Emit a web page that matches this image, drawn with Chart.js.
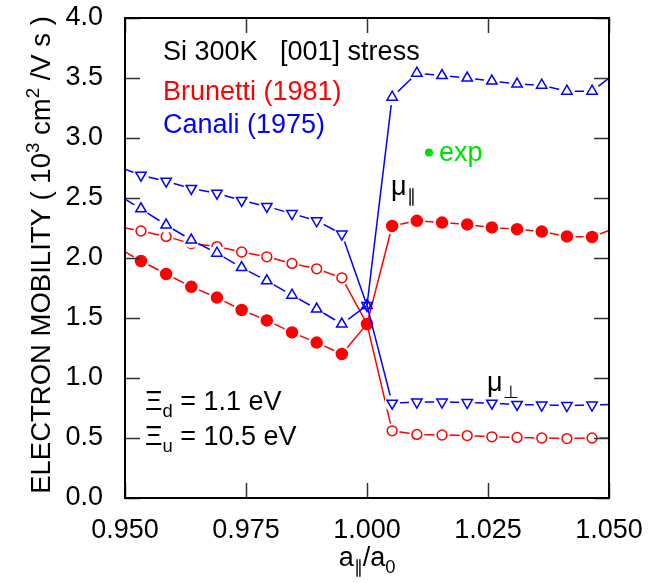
<!DOCTYPE html>
<html><head><meta charset="utf-8">
<script src="https://cdn.jsdelivr.net/npm/chart.js@4.4.0/dist/chart.umd.min.js"></script>
<style>html,body{margin:0;padding:0;background:#fff;overflow:hidden}#wrap{width:653px;height:583px;position:relative}</style>
</head><body><div id="wrap"><canvas id="c" width="653" height="583"></canvas></div>
<script>
// ---- data ----
const xValues = [0.950, 0.9533, 0.9585, 0.9637, 0.9690, 0.9741, 0.9793, 0.9845, 0.9896, 0.9948, 1.000,
                 1.0052, 1.0103, 1.0155, 1.0207, 1.0258, 1.0310, 1.0361, 1.0413, 1.0465, 1.050];
// Canali (1975) mu parallel (open up-triangles)
const canaliPar   = [2.49, 2.41, 2.275, 2.15, 2.04, 1.92, 1.81, 1.69, 1.575, 1.45, 1.605,
                     3.34, 3.54, 3.52, 3.50, 3.475, 3.45, 3.44, 3.39, 3.39, 3.50];
// Canali (1975) mu perpendicular (open down-triangles)
const canaliPerp  = [2.74, 2.69, 2.64, 2.58, 2.54, 2.48, 2.43, 2.37, 2.31, 2.20, 1.605,
                     0.79, 0.80, 0.80, 0.795, 0.79, 0.78, 0.775, 0.77, 0.775, 0.78];
// Brunetti (1981) mu parallel (filled circles)
const brunettiPar = [2.05, 1.975, 1.867, 1.76, 1.67, 1.567, 1.48, 1.38, 1.295, 1.20, 1.45,
                     2.267, 2.31, 2.295, 2.28, 2.255, 2.24, 2.22, 2.18, 2.175, 2.23];
// Brunetti (1981) mu perpendicular (open circles)
const brunettiPerp= [2.25, 2.225, 2.18, 2.12, 2.095, 2.05, 2.01, 1.955, 1.91, 1.835, 1.45,
                     0.56, 0.53, 0.525, 0.52, 0.51, 0.505, 0.50, 0.495, 0.50, 0.50];
const expX = [1.0128];
const expY = [2.88];
const xTickValues = [0.950, 0.975, 1.000, 1.025, 1.050];
const yTickValues = [0.0, 0.5, 1.0, 1.5, 2.0, 2.5, 3.0, 3.5, 4.0];

// ---- styling ----
const FAM = '"Liberation Sans", Arial, Helvetica, sans-serif';
const RED = '#ff0000', BLUE = '#0000ff', GREEN = '#00e000';
const N = xValues.length;
const pts = arr => arr.map((v, i) => ({x: xValues[i], y: v}));
const isEdge = i => i === 0 || i === N - 1;
const isCenter = i => i === (N - 1) / 2;

function seriesSets(data, color, style, rot, r, fill, halo, base) {
  return [
    {data: pts(data), showLine: true, borderColor: color, borderWidth: 1.5, pointRadius: 0,
     pointHoverRadius: 0, order: base + 2, tension: 0},
    {data: pts(data), showLine: false, pointStyle: 'circle', backgroundColor: '#fff', borderWidth: 0,
     pointBorderWidth: 0, pointRadius: data.map((_, i) => (isEdge(i) || isCenter(i)) ? 0 : halo),
     pointBackgroundColor: '#fff', pointHoverRadius: 0, order: base + 1},
    {data: pts(data), showLine: false, pointStyle: style, rotation: rot,
     pointRadius: data.map((_, i) => isEdge(i) ? 0 : r), pointBorderColor: color,
     pointBackgroundColor: fill, pointBorderWidth: 1.5, pointHoverRadius: 0, order: base}
  ];
}

const datasets = [
  ...seriesSets(brunettiPerp, RED, 'circle', 0, 4.9, 'rgba(0,0,0,0)', 7.5, 40),
  ...seriesSets(brunettiPar, RED, 'circle', 0, 5.5, RED, 8.5, 30),
  ...seriesSets(canaliPerp, BLUE, 'triangle', 180, 6, 'rgba(0,0,0,0)', 8, 20),
  ...seriesSets(canaliPar, BLUE, 'triangle', 0, 6, 'rgba(0,0,0,0)', 8, 10),
  {data: expX.map((x, i) => ({x, y: expY[i]})), showLine: false, pointStyle: 'circle',
   pointRadius: 4, pointBackgroundColor: GREEN, pointBorderColor: GREEN, pointBorderWidth: 0, order: 0}
];

function rich(ctx, x, y, runs, size, color, align) {
  let total = 0;
  runs.forEach(r => {
    r.fs = (r.sub || r.sup) ? size * 0.68 : size;
    ctx.font = r.fs + 'px ' + FAM;
    r.w = ctx.measureText(r.t).width;
    total += r.w;
  });
  let cx = align === 'center' ? x - total / 2 : x;
  ctx.fillStyle = color;
  ctx.textAlign = 'left';
  ctx.textBaseline = 'alphabetic';
  runs.forEach(r => {
    ctx.font = r.fs + 'px ' + FAM;
    const dy = r.sub ? size * 0.26 : (r.sup ? -size * 0.4 : 0);
    ctx.fillText(r.t, cx, y + dy);
    cx += r.w;
  });
}

const decor = {
  id: 'decor',
  afterDraw(chart) {
    const ctx = chart.ctx, a = chart.chartArea, xs = chart.scales.x, ys = chart.scales.y;
    ctx.save();
    // inward tick marks on all four sides
    ctx.strokeStyle = '#333'; ctx.lineWidth = 1.5;
    const TL = 15;
    ctx.beginPath();
    yTickValues.forEach(v => {
      const py = Math.round(ys.getPixelForValue(v)) + 0.5;
      ctx.moveTo(a.left, py); ctx.lineTo(a.left + TL, py);
      ctx.moveTo(a.right, py); ctx.lineTo(a.right - TL, py);
    });
    xTickValues.forEach(v => {
      const px = Math.round(xs.getPixelForValue(v)) + 0.5;
      ctx.moveTo(px, a.top); ctx.lineTo(px, a.top + TL);
      ctx.moveTo(px, a.bottom); ctx.lineTo(px, a.bottom - TL);
    });
    ctx.stroke();
    // frame
    ctx.strokeStyle = '#000'; ctx.lineWidth = 2;
    ctx.strokeRect(a.left, a.top, a.right - a.left, a.bottom - a.top);

    // annotations
    const S = 27;
    rich(ctx, 163, 60, [{t: 'Si 300K   [001] stress'}], S, '#000');
    rich(ctx, 163, 100, [{t: 'Brunetti (1981)'}], S, RED);
    rich(ctx, 163, 133, [{t: 'Canali (1975)'}], S, BLUE);
    rich(ctx, 439, 161, [{t: 'exp'}], S, GREEN);
    rich(ctx, 391, 195, [{t: 'μ'}, {t: '∥', sub: true}], S, '#000');
    rich(ctx, 487, 391, [{t: 'μ'}, {t: '⊥', sub: true}], S, '#000');
    rich(ctx, 145, 410, [{t: 'Ξ'}, {t: 'd', sub: true}, {t: ' = 1.1 eV'}], S, '#000');
    rich(ctx, 145, 445, [{t: 'Ξ'}, {t: 'u', sub: true}, {t: ' = 10.5 eV'}], S, '#000');
    // x axis title
    rich(ctx, (a.left + a.right) / 2, 566, [{t: 'a'}, {t: '∥', sub: true}, {t: '/a'}, {t: '0', sub: true}], S, '#000', 'center');
    // y axis title
    ctx.save();
    ctx.translate(50, 255);
    ctx.rotate(-Math.PI / 2);
    rich(ctx, 0, 0, [{t: 'ELECTRON MOBILITY ( 10'}, {t: '3', sup: true}, {t: ' cm'}, {t: '2', sup: true}, {t: ' /V s )'}], 27.5, '#000', 'center');
    ctx.restore();
    ctx.restore();
  }
};

const chart = new Chart(document.getElementById('c'), {
  type: 'scatter',
  data: {datasets},
  options: {
    responsive: false, animation: false, devicePixelRatio: 1,
    layout: {padding: {left: 0, right: 44, top: 18, bottom: 0}},
    plugins: {legend: {display: false}, tooltip: {enabled: false}},
    events: [],
    scales: {
      x: {type: 'linear', min: 0.95, max: 1.05,
          afterBuildTicks: s => { s.ticks = xTickValues.map(v => ({value: v})); },
          ticks: {callback: v => v.toFixed(3), font: {family: FAM, size: 27}, color: '#000', padding: 8, maxRotation: 0, autoSkip: false},
          grid: {display: false}, border: {display: false},
          afterFit: s => { s.height = 85; s.paddingLeft = 0; s.paddingRight = 0; }},
      y: {type: 'linear', min: 0, max: 4,
          afterBuildTicks: s => { s.ticks = yTickValues.map(v => ({value: v})); },
          ticks: {callback: v => v.toFixed(1), font: {family: FAM, size: 27}, color: '#000', padding: 14, autoSkip: false},
          grid: {display: false}, border: {display: false},
          afterFit: s => { s.width = 125; s.paddingTop = 0; s.paddingBottom = 0; }}
    }
  },
  plugins: [decor]
});
</script></body></html>
